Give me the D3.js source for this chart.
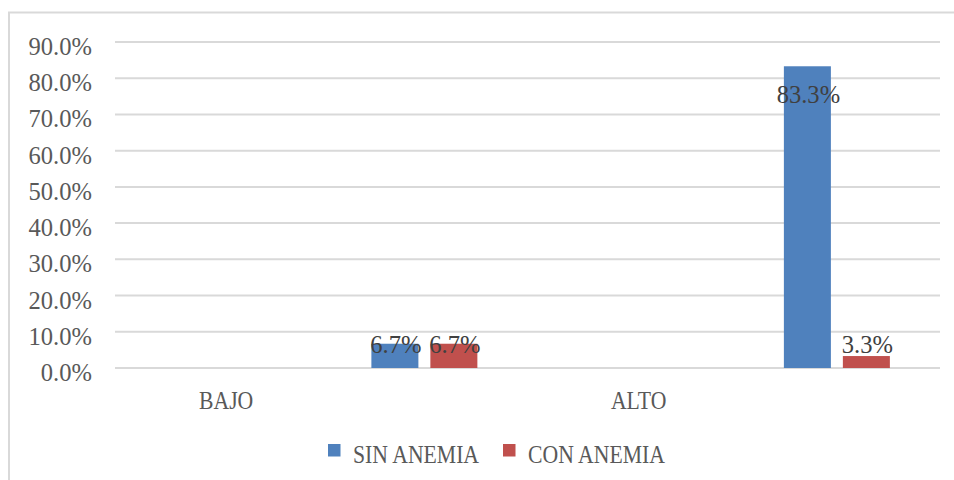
<!DOCTYPE html>
<html>
<head>
<meta charset="utf-8">
<script src="https://cdn.jsdelivr.net/npm/d3@7"></script>
<style>
  html, body { margin: 0; padding: 0; background: #fff; }
  svg { display: block; }
  text { font-family: "Liberation Serif", "Times New Roman", serif; }
</style>
</head>
<body>
<script>
// ---- data ----
const categories = ["BAJO", "", "ALTO", ""];
const seriesNames = ["SIN ANEMIA", "CON ANEMIA"];
const sinAnemia = [null, 6.7, null, 83.3];
const conAnemia = [null, 6.7, null, 3.3];
const yTicks = [0, 10, 20, 30, 40, 50, 60, 70, 80, 90];
const seriesColors = ["#4F81BD", "#C0504D"];

// ---- layout ----
const W = 954, H = 480;
const plot = { left: 115, right: 940, top: 42, bottom: 368 };
const fontSize = 20.5, stretchY = 1.23;
const numSX = 1.2, wordSX = 1.06;

const svg = d3.select("body").append("svg").attr("width", W).attr("height", H);

// outer chart box
svg.append("rect")
  .attr("x", 9).attr("y", 12.5).attr("width", W + 10).attr("height", H + 10)
  .attr("fill", "#fff").attr("stroke", "#D9D9D9").attr("stroke-width", 2);

const y = d3.scaleLinear().domain([0, 90]).range([plot.bottom, plot.top]);
const x0 = d3.scaleBand().domain(d3.range(categories.length)).range([plot.left, plot.right]).padding(0);
const x1 = d3.scaleBand().domain(seriesNames).range([0, x0.bandwidth()])
  .paddingInner(0.203).paddingOuter(0.85);

function stretchedText(sel, x, yy, str, anchor, color, sx) {
  return sel.append("text")
    .attr("transform", `translate(${x},${yy}) scale(${sx},${stretchY})`)
    .attr("text-anchor", anchor)
    .attr("font-size", fontSize)
    .attr("fill", color)
    .text(str);
}

// gridlines
const grid = svg.append("g");
yTicks.forEach(t => {
  grid.append("line")
    .attr("x1", plot.left).attr("x2", plot.right)
    .attr("y1", y(t)).attr("y2", y(t))
    .attr("stroke", "#D9D9D9").attr("stroke-width", 2);
});

// y axis labels
const fmt = d => d.toFixed(1) + "%";
const yAxisG = svg.append("g");
yTicks.forEach(t => {
  stretchedText(yAxisG, 92, y(t) + 13, fmt(t), "end", "#595959", numSX);
});

// bars
const seriesData = [sinAnemia, conAnemia];
const barsG = svg.append("g");
seriesData.forEach((vals, si) => {
  vals.forEach((v, ci) => {
    if (v == null) return;
    barsG.append("rect")
      .attr("x", x0(ci) + x1(seriesNames[si]))
      .attr("y", y(v))
      .attr("width", x1.bandwidth())
      .attr("height", y(0) - y(v))
      .attr("fill", seriesColors[si]);
  });
});

// data labels (inside end, clamped above the baseline)
const labG = svg.append("g");
seriesData.forEach((vals, si) => {
  vals.forEach((v, ci) => {
    if (v == null) return;
    const cx = x0(ci) + x1(seriesNames[si]) + x1.bandwidth() / 2;
    const by = Math.min(y(v) + 37, y(0) - 15);
    stretchedText(labG, cx + 1, by, fmt(v), "middle", "#404040", numSX);
  });
});

// category labels
const xAxisG = svg.append("g");
categories.forEach((c, i) => {
  if (!c) return;
  stretchedText(xAxisG, x0(i) + x0.bandwidth() / 2 + 8, 409, c, "middle", "#595959", wordSX);
});

// legend
const legG = svg.append("g");
const legendX = [328, 503];
seriesNames.forEach((s, i) => {
  legG.append("rect")
    .attr("x", legendX[i]).attr("y", 444)
    .attr("width", 12.5).attr("height", 12.5)
    .attr("fill", seriesColors[i]);
  stretchedText(legG, legendX[i] + 25, 462.5, s, "start", "#595959", wordSX);
});
</script>
</body>
</html>
